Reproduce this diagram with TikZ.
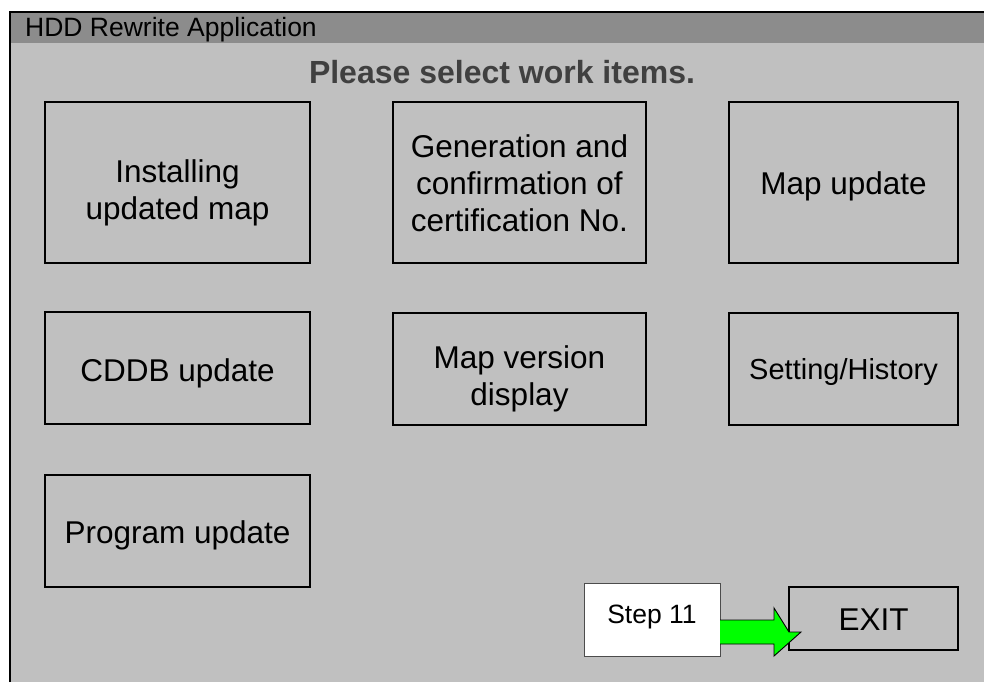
\documentclass[tikz,border=0pt]{standalone}
\usepackage{fontspec}
\setmainfont{Liberation Sans}
\definecolor{panel}{HTML}{C0C0C0}
\definecolor{titlebar}{HTML}{8C8C8C}
\definecolor{headtext}{HTML}{404040}
\definecolor{arrowgreen}{HTML}{00FF00}
\begin{document}
\begin{tikzpicture}[x=1pt,y=-1pt,
  btn/.style={draw=black, line width=1.4pt, fill=panel, inner sep=0pt, outer sep=0pt,
    anchor=north west},
  btntext/.style={inner sep=0pt, align=center, font=\fontsize{31.5}{37}\selectfont},
  stepbox/.style={draw=black!70, line width=0.9pt, fill=white, inner sep=0pt, outer sep=0pt,
    anchor=north west},
  blockarrow/.style={draw=black, line width=0.9pt, fill=arrowgreen, line join=miter}]
\useasboundingbox (0,0) rectangle (984,682);
\fill[white] (0,0) rectangle (984,682);
% window
\fill[panel] (10,12) rectangle (984,682);
\fill[titlebar] (10,12) rectangle (984,43);
\draw[black, line width=1.6pt] (10,682) -- (10,12) -- (984,12);
\node[anchor=base west, inner sep=0pt, font=\fontsize{26.5}{30}\selectfont] (wintitle) at (25,37) {HDD Rewrite Application};
\node[anchor=base, inner sep=0pt, text=headtext, font=\fontsize{32}{36}\selectfont\bfseries] (prompt) at (502,84) {Please select work items.};
% buttons
\node[btn, minimum width=265pt, minimum height=161pt] (inst) at (45,102) {};
\node[btntext, yshift=-10pt] (inst-t) at (inst.center) {Installing\\updated map};
\node[btn, minimum width=253pt, minimum height=161pt] (gen) at (393,102) {};
\node[btntext, yshift=-1pt] (gen-t) at (gen.center) {Generation and\\confirmation of\\certification No.};
\node[btn, minimum width=229pt, minimum height=161pt] (mapupd) at (729,102) {};
\node[btntext, yshift=-4pt] (mapupd-t) at (mapupd.center) {Map update};
\node[btn, minimum width=265pt, minimum height=112pt] (cddb) at (45,312) {};
\node[btntext, yshift=-5pt] (cddb-t) at (cddb.center) {CDDB update};
\node[btn, minimum width=253pt, minimum height=112pt] (mapver) at (393,313) {};
\node[btntext, yshift=-10pt] (mapver-t) at (mapver.center) {Map version\\display};
\node[btn, minimum width=229pt, minimum height=112pt] (sethist) at (729,313) {};
\node[btntext, yshift=-3pt, font=\fontsize{29}{34}\selectfont] (sethist-t) at (sethist.center) {Setting/History};
\node[btn, minimum width=265pt, minimum height=112pt] (prog) at (45,475) {};
\node[btntext, yshift=-4pt] (prog-t) at (prog.center) {Program update};
\node[btn, minimum width=169pt, minimum height=63pt] (exit) at (789,587) {};
\node[btntext, yshift=-1pt] (exit-t) at (exit.center) {EXIT};
\node[stepbox, minimum width=136pt, minimum height=73pt] (step) at (584,583) {};
\node[btntext, yshift=3pt, font=\fontsize{26.5}{30}\selectfont] (step-t) at (step.center) {Step 11};
% green arrow from step box to EXIT
\draw[blockarrow] (step.east |- 0,620) -- (774,620) -- (774,608) -- (exit.west |- 0,632) -- (801,632)
  -- (774,656) -- (774,644) -- (step.east |- 0,644);
\end{tikzpicture}
\end{document}
